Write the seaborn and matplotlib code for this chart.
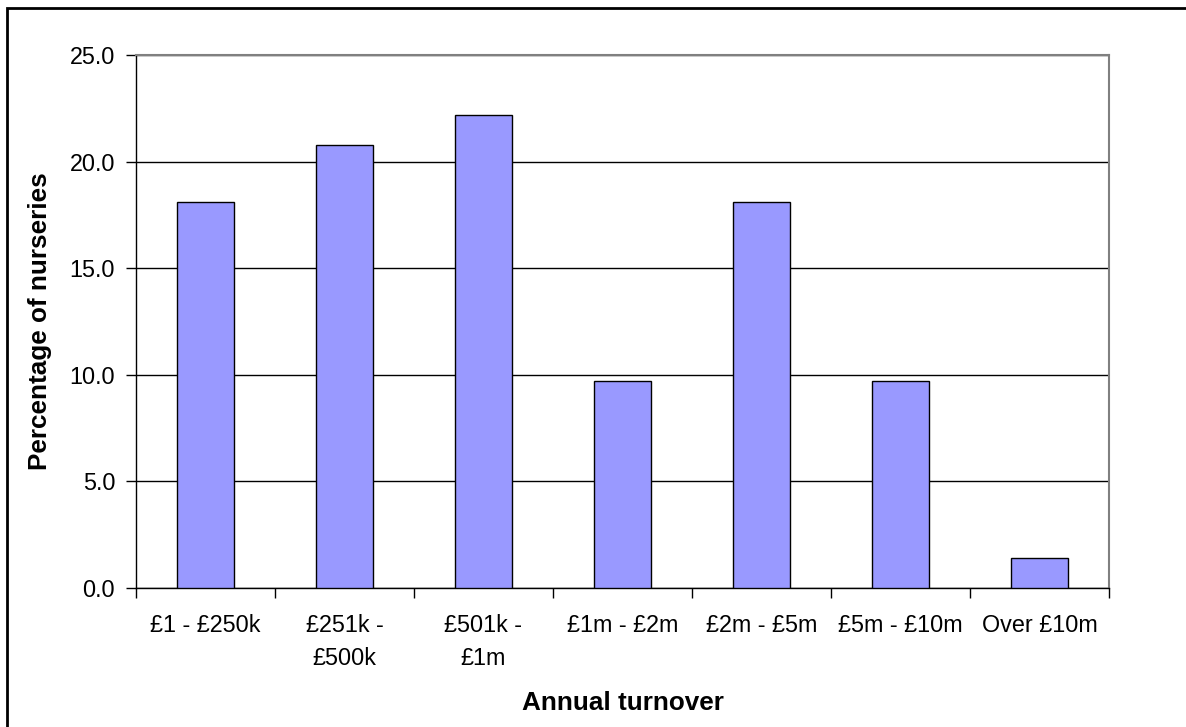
import matplotlib
matplotlib.use("Agg")
import matplotlib.pyplot as plt
from matplotlib.patches import Rectangle
from matplotlib.ticker import FixedLocator, MultipleLocator, FormatStrFormatter
import seaborn as sns
import pandas as pd

# Turnover bands and share of nurseries (%) in each
bands = ["£1 - £250k", "£251k -\n£500k", "£501k -\n£1m", "£1m - £2m",
         "£2m - £5m", "£5m - £10m", "Over £10m"]
percent = [18.1, 20.8, 22.2, 9.7, 18.1, 9.7, 1.4]

sns.set_theme(style="white")
plt.rcParams["font.family"] = ["Liberation Sans", "DejaVu Sans"]
plt.rcParams["text.color"] = "black"
plt.rcParams["xtick.color"] = "black"
plt.rcParams["ytick.color"] = "black"

FS = 16.8      # tick labels
FS_LAB = 18.8  # axis titles

df = pd.DataFrame({"band": bands, "percent": percent})

fig = plt.figure(figsize=(11.86, 7.27), dpi=100)
ax = fig.add_axes([136 / 1186, 1 - 588 / 727, (1109 - 136) / 1186, (588 - 55) / 727])

sns.barplot(data=df, x="band", y="percent", color="#9999FF", saturation=1,
            width=0.41, edgecolor="black", linewidth=1.0, ax=ax, zorder=3)

ax.set_xlim(-0.5, len(bands) - 0.5)
ax.set_ylim(0, 25)
ax.yaxis.set_major_locator(MultipleLocator(5))
ax.yaxis.set_major_formatter(FormatStrFormatter("%.1f"))
ax.grid(axis="y", color="black", linewidth=1.0, zorder=0)
ax.set_axisbelow(True)

# Category boundary ticks on the x axis
ax.xaxis.set_minor_locator(FixedLocator([i - 0.5 for i in range(len(bands) + 1)]))
ax.tick_params(axis="x", which="major", length=0, pad=19, labelsize=FS, labelcolor="black")
ax.tick_params(axis="x", which="minor", bottom=True, length=7, width=1, color="black", direction="out")
ax.tick_params(axis="y", which="major", left=True, length=7, width=1, color="black",
               direction="out", labelsize=FS, pad=8, labelcolor="black")
for lbl in ax.get_xticklabels():
    lbl.set_linespacing(1.55)
    lbl.set_verticalalignment("top")

for side in ["left", "bottom"]:
    ax.spines[side].set_color("black")
    ax.spines[side].set_linewidth(1.0)
for side in ["top", "right"]:
    ax.spines[side].set_color("#808080")
    ax.spines[side].set_linewidth(1.5)

ax.set_xlabel("")
ax.set_ylabel("")
fig.text(623 / 1186, 1 - 703 / 727, "Annual turnover", ha="center", va="center",
         fontsize=FS_LAB, fontweight="bold", color="black")
fig.text(40 / 1186, 1 - 321 / 727, "Percentage of nurseries", ha="center", va="center",
         rotation=90, fontsize=FS_LAB, fontweight="bold", color="black")

# Chart frame
fig.patches.append(Rectangle((7 / 1186, -0.1), 1.2, 1 - 8 / 727 + 0.1,
                             transform=fig.transFigure, fill=False,
                             edgecolor="black", linewidth=2.0))

fig.savefig("out.png", dpi=100, facecolor="white")
